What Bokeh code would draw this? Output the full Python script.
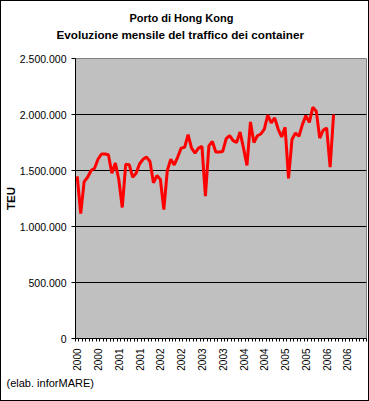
import math
from bokeh.plotting import figure
from bokeh.models import FixedTicker, Range1d, Title
from bokeh.embed import file_html
from bokeh.resources import INLINE

# ---- data (monthly TEU, Jan 2000 .. Mar 2006) ----
teu = [
    1448000, 1116000, 1400000, 1440000, 1500000, 1520000, 1600000, 1647000, 1647000, 1640000, 1476000, 1567000,
    1420000, 1170000, 1557000, 1552000, 1440000, 1475000, 1560000, 1600000, 1620000, 1580000, 1390000, 1455000,
    1420000, 1150000, 1500000, 1600000, 1550000, 1620000, 1700000, 1707000, 1820000, 1700000, 1656000, 1700000,
    1716000, 1270000, 1720000, 1760000, 1665000, 1665000, 1670000, 1785000, 1812000, 1767000, 1750000, 1844000,
    1700000, 1546000, 1934000, 1750000, 1810000, 1826000, 1870000, 1994000, 1925000, 1970000, 1870000, 1800000,
    1886000, 1430000, 1780000, 1835000, 1806000, 1910000, 1990000, 1930000, 2065000, 2030000, 1790000, 1860000,
    1880000, 1530000, 2000000,
]
n_slots = 84  # Jan 2000 .. Dec 2006
x_label_index = [0, 6, 12, 18, 24, 30, 36, 42, 48, 54, 60, 66, 72, 78]
x_labels = ["2000", "2000", "2001", "2001", "2002", "2002", "2003", "2003",
            "2004", "2004", "2005", "2005", "2006", "2006"]
y_ticks = [0, 500000, 1000000, 1500000, 2000000, 2500000]
y_labels = ["0", "500.000", "1.000.000", "1.500.000", "2.000.000", "2.500.000"]

title1 = "Porto di Hong Kong"
title2 = "Evoluzione mensile del traffico dei container"
footer = "(elab. inforMARE)"
y_title = "TEU"

FONT = "Liberation Sans"

x = [i + 0.5 for i in range(len(teu))]

p = figure(width=369, height=401,
           x_range=Range1d(0, n_slots), y_range=Range1d(0, y_ticks[-1]),
           output_backend="svg", toolbar_location=None, title=None,
           min_border_left=73, min_border_right=4, min_border_top=57, min_border_bottom=64,
           background_fill_color="#C0C0C0", border_fill_color="white",
           outline_line_color="#808080")
p.styles = {"border": "1px solid black", "box-sizing": "border-box"}

p.line(x, teu, line_color="#FF0000", line_width=3)

# x axis
xt = [i + 0.5 for i in x_label_index]
p.xaxis.ticker = FixedTicker(ticks=xt, minor_ticks=list(range(n_slots + 1)))
p.xaxis.major_label_overrides = {t: l for t, l in zip(xt, x_labels)}
p.xaxis.major_tick_in = 0
p.xaxis.major_tick_out = 0
p.xaxis.major_tick_line_color = None
p.xaxis.minor_tick_in = 0
p.xaxis.minor_tick_out = 3
p.xaxis.minor_tick_line_color = "black"
p.xaxis.major_label_orientation = math.pi / 2
p.xaxis.major_label_standoff = 7
p.xaxis.major_label_text_font = FONT
p.xaxis.major_label_text_font_size = "10px"
p.xaxis.major_label_text_color = "black"
p.xaxis.axis_line_color = "black"

# y axis
p.yaxis.ticker = FixedTicker(ticks=y_ticks)
p.yaxis.major_label_overrides = {t: l for t, l in zip(y_ticks, y_labels)}
p.yaxis.major_tick_in = 0
p.yaxis.major_tick_out = 4
p.yaxis.minor_tick_line_color = None
p.yaxis.major_label_standoff = 5
p.yaxis.major_label_text_font = FONT
p.yaxis.major_label_text_font_size = "10.5px"
p.yaxis.major_label_text_color = "black"
p.yaxis.axis_line_color = "black"
p.yaxis.axis_label = y_title
p.yaxis.axis_label_standoff = 0
p.yaxis.axis_label_text_font = FONT
p.yaxis.axis_label_text_font_size = "11.5px"
p.yaxis.axis_label_text_font_style = "bold"
p.yaxis.axis_label_text_color = "black"

p.xgrid.visible = False
p.ygrid.ticker = FixedTicker(ticks=y_ticks[1:])
p.ygrid.grid_line_color = "black"
p.ygrid.grid_line_width = 1

# titles (first added sits closest to the plot); a blank spacer first
p.add_layout(Title(text=" ", text_font=FONT, text_font_size="12.5px", standoff=0), "above")
p.add_layout(Title(text=title2, align="left", offset=-19, text_font=FONT,
                   text_font_size="11.7px", text_font_style="bold",
                   text_color="black", standoff=3), "above")
p.add_layout(Title(text=title1, align="left", offset=54, text_font=FONT,
                   text_font_size="11px", text_font_style="bold",
                   text_color="black", standoff=2), "above")
p.add_layout(Title(text=footer, align="left", offset=-69, text_font=FONT,
                   text_font_size="11px", text_font_style="normal",
                   text_color="black", standoff=2), "below")

open("out.html", "w").write(file_html(p, INLINE))
